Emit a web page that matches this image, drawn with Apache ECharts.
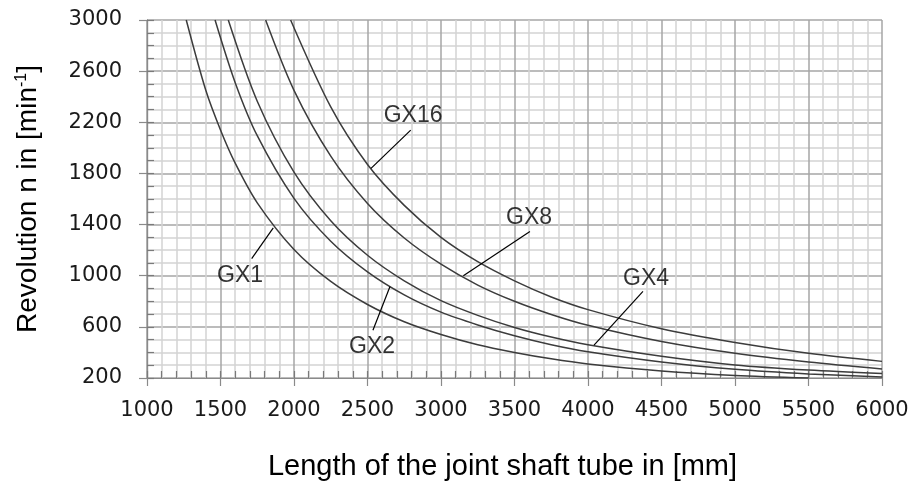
<!DOCTYPE html>
<html>
<head>
<meta charset="utf-8">
<script src="https://cdn.jsdelivr.net/npm/echarts@6/dist/echarts.min.js"></script>
<style>
html,body{margin:0;padding:0;background:#fff;}
#chart{width:913px;height:486px;}
</style>
</head>
<body>
<div id="chart"></div>
<script>
// Curves: [length mm, revolution min^-1]
const gx1 = [[1267,3000],[1400,2450],[1500,2140],[1600,1880],[1750,1570],[2000,1205],[2250,955],[2500,775],[2750,640],[3000,540],[3250,460],[3500,400],[3750,350],[4000,310],[4500,255],[5000,220],[5500,200]];
const gx2 = [[1463,3000],[1600,2510],[1750,2095],[2000,1605],[2250,1270],[2500,1030],[2750,850],[3000,715],[3250,615],[3500,530],[3750,460],[4000,405],[4500,325],[5000,268],[5500,232],[6000,208]];
const gx4 = [[1553,3000],[1750,2365],[2000,1810],[2250,1430],[2500,1160],[2750,960],[3000,805],[3250,690],[3500,595],[3750,520],[4000,460],[4500,370],[5000,302],[5500,262],[6000,235]];
const gx8 = [[1807,3000],[2000,2450],[2250,1935],[2500,1565],[2750,1295],[3000,1090],[3250,927],[3500,800],[3750,697],[4000,612],[4500,485],[5000,393],[5500,325],[6000,271]];
const gx16 = [[1977,3000],[2250,2320],[2500,1870],[2750,1550],[3000,1300],[3250,1110],[3500,960],[3750,834],[4000,735],[4500,585],[5000,478],[5500,393],[6000,330]];
const seriesNames = ['GX1','GX2','GX4','GX8','GX16'];
const seriesData = [gx1, gx2, gx4, gx8, gx16];

// Annotation labels (data coords) and leader lines (from, to)
const labelNames = ['GX1','GX2','GX4','GX8','GX16'];
const labelPos = [[1633,1001],[2531,449],[4395,978],[3599,1452],[2810,2249]];
const leaderFrom = [[1712,1133],[2537,573],[4374,877],[3605,1346],[2794,2139]];
const leaderTo = [[1859,1374],[2653,916],[4041,457],[3152,999],[2524,1839]];

const xMin = 1000, xMax = 6000, xStep = 500;
const yMin = 200, yMax = 3000, yStep = 400;

const chart = echarts.init(document.getElementById('chart'), null, {renderer:'canvas'});
const tickFont = {fontFamily:'DejaVu Sans', fontSize:21, color:'#1a1a1a', formatter:(v)=>String(v)};
const series = seriesData.map((d,i)=>({
  name: seriesNames[i], type:'line', data:d, smooth:0.3, showSymbol:false, symbol:'none',
  lineStyle:{color:'#3c3c3c', width:1.5}, clip:true, silent:true, z:3
}));
series.push({
  type:'scatter', symbolSize:0, silent:true, z:5,
  data: labelNames.map((n,i)=>({name:n, value:labelPos[i]})),
  label:{show:true, position:'inside', formatter:'{b}', fontFamily:'Liberation Sans', fontSize:23, color:'#000'},
  markLine:{
    silent:true, symbol:['none','none'], label:{show:false},
    lineStyle:{color:'#000', width:1.2, type:'solid'},
    data: leaderFrom.map((f,i)=>[{coord:f},{coord:leaderTo[i]}])
  }
});

chart.setOption({
  animation:false,
  backgroundColor:'#fff',
  grid:{left:147, right:31, top:20, bottom:106, containLabel:false},
  xAxis:[{
    type:'value', min:xMin, max:xMax, interval:xStep,
    axisLine:{show:true, onZero:false, lineStyle:{color:'#8a8a8a', width:1.2}},
    axisTick:{show:true, length:8, lineStyle:{color:'#8a8a8a', width:1.2}},
    axisLabel:{...tickFont, margin:22},
    splitLine:{show:true, lineStyle:{color:'#a6a6a6', width:1.5}},
    minorTick:{show:false, splitNumber:5},
    minorSplitLine:{show:true, lineStyle:{color:'#d3d3d3', width:1.5}},
    name:'Length of the joint shaft tube in [mm]', nameLocation:'middle', nameGap:74,
    nameTextStyle:{fontFamily:'Liberation Sans', fontSize:29, color:'#000', padding:[0,24,0,0]}
  },{
    type:'value', min:xMin, max:xMax, interval:100, position:'bottom',
    axisLine:{show:true, onZero:false, lineStyle:{color:'#8a8a8a', width:1.2}},
    axisTick:{show:true, inside:true, length:7, lineStyle:{color:'#7a7a7a', width:1.2}},
    axisLabel:{show:false}, splitLine:{show:false}
  }],
  yAxis:[{
    type:'value', min:yMin, max:yMax, interval:yStep,
    axisLine:{show:true, onZero:false, lineStyle:{color:'#8a8a8a', width:1.2}},
    axisTick:{show:true, length:8, lineStyle:{color:'#8a8a8a', width:1.2}},
    axisLabel:{...tickFont, margin:25},
    splitLine:{show:true, lineStyle:{color:'#a6a6a6', width:1.5}},
    minorTick:{show:false, splitNumber:4},
    minorSplitLine:{show:true, lineStyle:{color:'#d3d3d3', width:1.5}},
    name:'{a|Revolution n in [min}{s|-1}{a|]}', nameLocation:'middle', nameGap:105, nameRotate:90,
    nameTextStyle:{rich:{
      a:{fontFamily:'Liberation Sans', fontSize:28, color:'#000'},
      s:{fontFamily:'Liberation Sans', fontSize:16, color:'#000', verticalAlign:'top', padding:[0,0,12,0]}
    }}
  },{
    type:'value', min:yMin, max:yMax, interval:100, position:'left',
    axisLine:{show:true, onZero:false, lineStyle:{color:'#8a8a8a', width:1.2}},
    axisTick:{show:true, inside:true, length:7, lineStyle:{color:'#7a7a7a', width:1.2}},
    axisLabel:{show:false}, splitLine:{show:false}
  }],
  series: series
});
</script>
</body>
</html>
